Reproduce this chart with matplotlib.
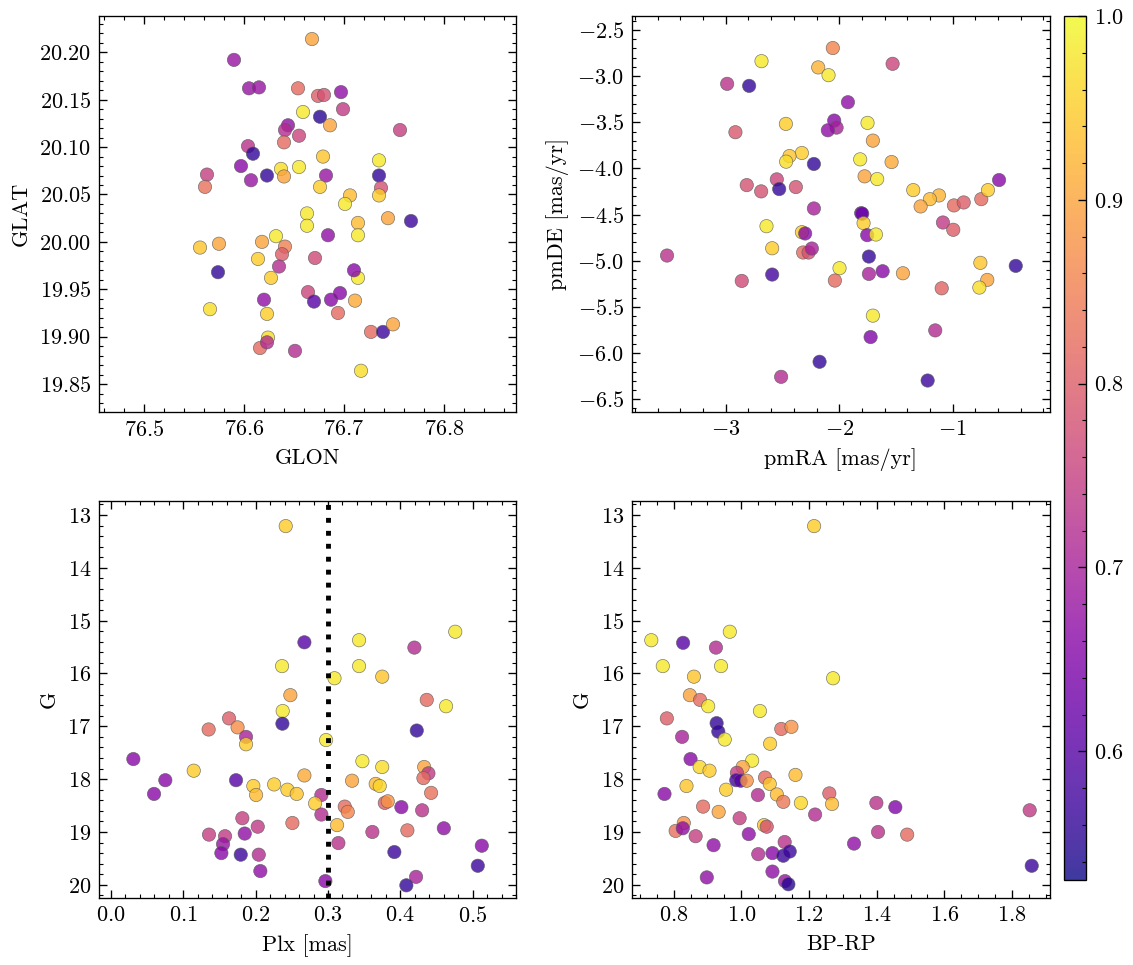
import numpy as np
import matplotlib
matplotlib.use("Agg")
import matplotlib.pyplot as plt
from matplotlib.ticker import AutoMinorLocator, MultipleLocator

plt.rcParams.update({
    "font.family": "serif",
    "font.serif": ["cmr10"],
    "mathtext.fontset": "cm",
    "axes.formatter.use_mathtext": True,
    "font.size": 10,
    "axes.linewidth": 0.6,
    "xtick.direction": "in",
    "ytick.direction": "in",
    "xtick.top": True,
    "ytick.right": True,
    "xtick.major.size": 3.5,
    "ytick.major.size": 3.5,
    "xtick.minor.size": 1.8,
    "ytick.minor.size": 1.8,
    "xtick.major.width": 0.6,
    "ytick.major.width": 0.6,
    "xtick.minor.width": 0.5,
    "ytick.minor.width": 0.5,
    "xtick.minor.visible": True,
    "ytick.minor.visible": True,
})

# ---- sky positions (GLON, GLAT) ----
glon = [76.668, 76.590, 76.605, 76.615, 76.654, 76.674, 76.680, 76.697, 76.699, 76.659,
        76.676, 76.686, 76.756, 76.644, 76.641, 76.655, 76.640, 76.604, 76.609, 76.679,
        76.597, 76.637, 76.655, 76.735, 76.563, 76.623, 76.640, 76.682, 76.735, 76.561,
        76.607, 76.737, 76.676, 76.735, 76.706, 76.701, 76.663, 76.744, 76.767, 76.663,
        76.714, 76.714, 76.684, 76.556, 76.575, 76.618, 76.632, 76.641, 76.638, 76.614,
        76.671, 76.635, 76.574, 76.627, 76.714, 76.710, 76.664, 76.670, 76.687, 76.696,
        76.711, 76.694, 76.620, 76.566, 76.623, 76.624, 76.616, 76.623, 76.651, 76.727,
        76.739, 76.749, 76.717]
glat = [20.214, 20.192, 20.162, 20.163, 20.162, 20.154, 20.155, 20.158, 20.140, 20.137,
        20.132, 20.123, 20.118, 20.123, 20.118, 20.112, 20.105, 20.101, 20.093, 20.090,
        20.080, 20.077, 20.079, 20.086, 20.071, 20.070, 20.069, 20.070, 20.070, 20.058,
        20.065, 20.057, 20.058, 20.049, 20.049, 20.040, 20.030, 20.025, 20.022, 20.017,
        20.020, 20.007, 20.007, 19.994, 19.998, 20.000, 20.006, 19.995, 19.987, 19.982,
        19.983, 19.974, 19.968, 19.962, 19.962, 19.970, 19.947, 19.937, 19.939, 19.946,
        19.938, 19.925, 19.939, 19.929, 19.924, 19.899, 19.888, 19.894, 19.885, 19.905,
        19.905, 19.913, 19.864]
prob_sky = [0.90, 0.68, 0.68, 0.68, 0.82, 0.80, 0.78, 0.67, 0.74, 0.98,
            0.55, 0.90, 0.75, 0.67, 0.72, 0.76, 0.82, 0.73, 0.56, 0.94,
            0.66, 0.97, 0.98, 0.98, 0.75, 0.56, 0.90, 0.68, 0.56, 0.83,
            0.68, 0.78, 0.95, 0.95, 0.93, 0.98, 0.98, 0.90, 0.57, 0.98,
            0.93, 0.98, 0.67, 0.94, 0.90, 0.90, 0.98, 0.85, 0.80, 0.95,
            0.77, 0.72, 0.56, 0.95, 0.98, 0.66, 0.76, 0.60, 0.66, 0.66,
            0.91, 0.82, 0.67, 0.97, 0.95, 0.97, 0.82, 0.72, 0.72, 0.82,
            0.57, 0.90, 0.97]

# ---- proper motions ----
pmra = [-2.056, -2.685, -1.529, -2.185, -2.094, -2.988, -2.794, -1.923, -2.915, -2.470,
        -1.750, -2.044, -2.023, -2.100, -1.703, -2.329, -2.438, -2.468, -2.223, -1.815,
        -1.538, -1.776, -1.665, -2.815, -2.688, -2.550, -2.529, -2.382, -1.347, -1.120,
        -1.200, -1.282, -0.988, -0.902, -0.747, -0.688, -0.590, -2.223, -1.806, -1.797,
        -1.785, -1.753, -1.676, -2.641, -2.591, -2.329, -2.300, -2.318, -2.270, -2.241,
        -3.518, -1.738, -1.997, -2.591, -2.859, -2.038, -1.738, -1.617, -1.438, -1.085,
        -0.994, -0.755, -0.694, -0.764, -1.096, -0.443, -1.703, -1.153, -1.723, -2.173,
        -2.512, -1.220]
pmde = [-2.695, -2.837, -2.866, -2.905, -2.989, -3.083, -3.105, -3.282, -3.607, -3.517,
        -3.506, -3.481, -3.557, -3.586, -3.698, -3.832, -3.865, -3.926, -3.951, -3.901,
        -3.930, -4.085, -4.114, -4.180, -4.248, -4.118, -4.223, -4.201, -4.234, -4.292,
        -4.332, -4.411, -4.400, -4.368, -4.332, -4.234, -4.125, -4.433, -4.484, -4.490,
        -4.592, -4.722, -4.715, -4.625, -4.864, -4.690, -4.704, -4.910, -4.910, -4.867,
        -4.943, -4.954, -5.080, -5.149, -5.218, -5.214, -5.142, -5.113, -5.135, -4.585,
        -4.664, -5.022, -5.207, -5.290, -5.298, -5.055, -5.594, -5.754, -5.826, -6.094,
        -6.257, -6.297]
prob_pm = [0.86, 0.98, 0.76, 0.92, 0.98, 0.73, 0.56, 0.67, 0.79, 0.95,
           0.98, 0.66, 0.70, 0.67, 0.90, 0.95, 0.94, 0.97, 0.56, 0.98,
           0.91, 0.90, 0.98, 0.78, 0.78, 0.76, 0.56, 0.78, 0.95, 0.92,
           0.93, 0.90, 0.82, 0.80, 0.82, 0.95, 0.66, 0.70, 0.64, 0.62,
           0.95, 0.66, 0.98, 0.98, 0.95, 0.95, 0.66, 0.82, 0.78, 0.70,
           0.73, 0.56, 0.98, 0.58, 0.77, 0.82, 0.70, 0.66, 0.90, 0.74,
           0.80, 0.94, 0.90, 0.97, 0.81, 0.56, 0.98, 0.72, 0.65, 0.56,
           0.72, 0.57]

# ---- parallax vs G ----
plx = [0.2416, 0.2674, 0.3430, 0.4195, 0.4760, 0.2365, 0.3430, 0.3090, 0.3750, 0.2480,
       0.4366, 0.4633, 0.2374, 0.2370, 0.1632, 0.1350, 0.1750, 0.1867, 0.1867, 0.4228,
       0.2974, 0.0309, 0.1144, 0.3476, 0.3750, 0.4330, 0.4389, 0.0751, 0.1729, 0.0595,
       0.1968, 0.2006, 0.2255, 0.2439, 0.2568, 0.2674, 0.3333, 0.3660, 0.3716, 0.4320,
       0.4426, 0.2909, 0.2822, 0.2909, 0.3232, 0.3274, 0.3786, 0.3827, 0.4015, 0.4302,
       0.3126, 0.2508, 0.1816, 0.2029, 0.1355, 0.1577, 0.1849, 0.1549, 0.1526, 0.1794,
       0.2043, 0.2065, 0.3144, 0.3614, 0.4098, 0.4602, 0.3918, 0.5127, 0.5072, 0.4218,
       0.4084, 0.2964]
g_plx = [13.21, 15.41, 15.37, 15.51, 15.21, 15.86, 15.86, 16.09, 16.06, 16.41,
         16.50, 16.62, 16.71, 16.95, 16.85, 17.06, 17.02, 17.20, 17.34, 17.08,
         17.26, 17.62, 17.84, 17.66, 17.77, 17.77, 17.89, 18.02, 18.02, 18.28,
         18.13, 18.30, 18.10, 18.20, 18.28, 17.93, 18.03, 18.09, 18.13, 17.98,
         18.26, 18.30, 18.46, 18.67, 18.52, 18.62, 18.45, 18.42, 18.53, 18.59,
         18.87, 18.83, 18.74, 18.90, 19.05, 19.08, 19.03, 19.23, 19.40, 19.43,
         19.43, 19.74, 19.21, 19.00, 18.97, 18.93, 19.38, 19.26, 19.64, 19.85,
         20.01, 19.93]
prob_plx = [0.95, 0.60, 0.98, 0.72, 0.98, 0.98, 0.98, 0.98, 0.94, 0.90,
            0.82, 0.98, 0.98, 0.56, 0.80, 0.82, 0.87, 0.70, 0.95, 0.56,
            0.98, 0.66, 0.95, 0.98, 0.97, 0.90, 0.74, 0.66, 0.60, 0.66,
            0.95, 0.93, 0.95, 0.95, 0.94, 0.91, 0.90, 0.93, 0.96, 0.82,
            0.83, 0.72, 0.95, 0.72, 0.82, 0.86, 0.80, 0.88, 0.66, 0.73,
            0.93, 0.82, 0.75, 0.74, 0.75, 0.74, 0.67, 0.68, 0.66, 0.57,
            0.72, 0.67, 0.73, 0.73, 0.82, 0.67, 0.57, 0.66, 0.57, 0.70,
            0.56, 0.66]
plx_cut = 0.3

# ---- colour-magnitude diagram ----
bprp = [1.215, 0.734, 0.828, 0.925, 0.966, 0.768, 0.940, 1.271, 0.860, 0.848,
        0.878, 0.902, 1.055, 0.927, 0.932, 0.780, 1.118, 1.148, 0.825, 0.951,
        1.085, 0.850, 0.877, 0.906, 1.032, 1.004, 1.160, 1.070, 0.987, 0.985,
        0.998, 1.016, 0.838, 1.084, 0.955, 0.773, 1.049, 1.105, 1.124, 1.176,
        1.260, 1.268, 0.887, 0.933, 1.218, 1.399, 1.455, 1.852, 0.995, 1.067,
        1.075, 0.830, 0.806, 0.827, 0.865, 1.022, 0.918, 1.128, 1.404, 1.490,
        1.333, 1.050, 1.092, 1.124, 1.143, 0.898, 1.092, 1.129, 1.139, 1.858]
g_cmd = [13.21, 15.37, 15.42, 15.51, 15.21, 15.86, 15.86, 16.09, 16.06, 16.41,
         16.50, 16.62, 16.71, 16.94, 17.10, 16.85, 17.05, 17.01, 17.20, 17.25,
         17.33, 17.62, 17.77, 17.84, 17.65, 17.77, 17.92, 17.97, 17.88, 18.02,
         18.03, 18.03, 18.13, 18.09, 18.20, 18.28, 18.30, 18.29, 18.43, 18.45,
         18.27, 18.47, 18.52, 18.62, 18.67, 18.45, 18.53, 18.59, 18.74, 18.87,
         18.90, 18.83, 18.98, 18.93, 19.08, 19.04, 19.25, 19.19, 19.00, 19.05,
         19.22, 19.42, 19.40, 19.45, 19.37, 19.86, 19.75, 19.93, 19.99, 19.64]
prob_cmd = [0.95, 0.98, 0.60, 0.72, 0.98, 0.98, 0.98, 0.98, 0.94, 0.90,
            0.82, 0.98, 0.98, 0.56, 0.56, 0.80, 0.82, 0.88, 0.70, 0.98,
            0.95, 0.66, 0.96, 0.95, 0.98, 0.90, 0.93, 0.82, 0.75, 0.58,
            0.60, 0.88, 0.94, 0.94, 0.95, 0.66, 0.72, 0.93, 0.84, 0.96,
            0.80, 0.93, 0.82, 0.90, 0.72, 0.73, 0.65, 0.74, 0.75, 0.94,
            0.78, 0.87, 0.83, 0.67, 0.75, 0.67, 0.67, 0.73, 0.73, 0.82,
            0.67, 0.72, 0.66, 0.57, 0.57, 0.67, 0.67, 0.68, 0.55, 0.57]

vmin, vmax = 0.53, 1.0
W, H = 1133, 965
fig = plt.figure(figsize=(W / 160, H / 160), dpi=160)


def px_axes(x0, y0, x1, y1):
    return fig.add_axes([x0 / W, 1 - y1 / H, (x1 - x0) / W, (y1 - y0) / H])


ax1 = px_axes(99, 16, 516, 412)
ax2 = px_axes(632, 16, 1050, 412)
ax3 = px_axes(99, 501, 516, 898)
ax4 = px_axes(632, 501, 1050, 898)
cax = px_axes(1064, 16, 1086, 880)

kw = dict(cmap="plasma", vmin=vmin, vmax=vmax, s=36, alpha=0.8,
          edgecolors="0.35", linewidths=0.3)

sc = ax1.scatter(glon, glat, c=prob_sky, **kw)
ax1.set_xlabel("GLON")
ax1.set_ylabel("GLAT")
ax1.set_xlim(76.455, 76.872)
ax1.set_ylim(19.8205, 20.2383)
ax1.xaxis.set_major_locator(MultipleLocator(0.1))
ax1.yaxis.set_major_locator(MultipleLocator(0.05))

ax2.scatter(pmra, pmde, c=prob_pm, **kw)
ax2.set_xlabel("pmRA [mas/yr]")
ax2.set_ylabel("pmDE [mas/yr]")
ax2.set_xlim(-3.827, -0.141)
ax2.set_ylim(-6.638, -2.348)
ax2.xaxis.set_major_locator(MultipleLocator(1))
ax2.yaxis.set_major_locator(MultipleLocator(0.5))

ax3.scatter(plx, g_plx, c=prob_plx, **kw)
ax3.axvline(plx_cut, color="k", ls=":", lw=2.2)
ax3.set_xlabel("Plx [mas]")
ax3.set_ylabel("G")
ax3.set_xlim(-0.0166, 0.560)
ax3.set_ylim(20.25, 12.735)
ax3.xaxis.set_major_locator(MultipleLocator(0.1))
ax3.yaxis.set_major_locator(MultipleLocator(1))

ax4.scatter(bprp, g_cmd, c=prob_cmd, **kw)
ax4.set_xlabel("BP-RP")
ax4.set_ylabel("G")
ax4.set_xlim(0.677, 1.912)
ax4.set_ylim(20.25, 12.735)
ax4.xaxis.set_major_locator(MultipleLocator(0.2))
ax4.yaxis.set_major_locator(MultipleLocator(1))

for ax in (ax1, ax2, ax3, ax4):
    ax.xaxis.set_minor_locator(AutoMinorLocator())
    ax.yaxis.set_minor_locator(AutoMinorLocator())

cb = fig.colorbar(sc, cax=cax)
cb.solids.set_alpha(0.8)
cb.outline.set_linewidth(0.6)
cb.ax.yaxis.set_major_locator(MultipleLocator(0.1))
cb.ax.yaxis.set_minor_locator(AutoMinorLocator())
cb.ax.tick_params(which="both", direction="in")

fig.savefig("out.png", dpi=160)
